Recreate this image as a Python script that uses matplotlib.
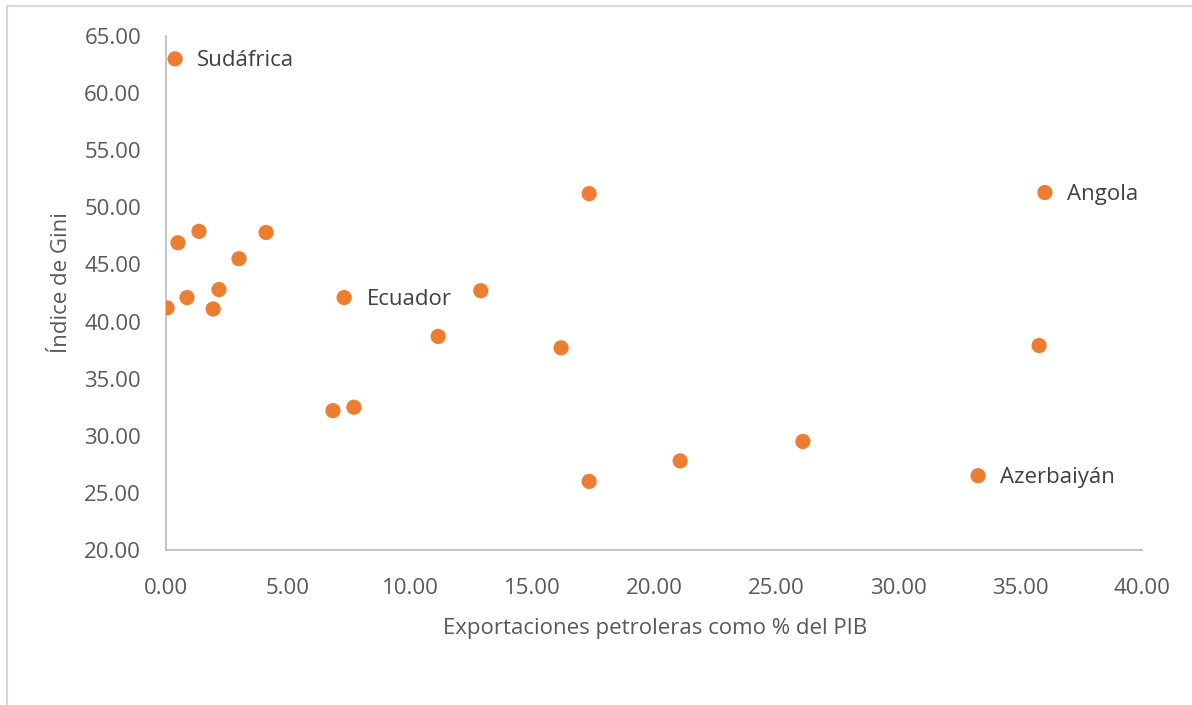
import matplotlib.pyplot as plt
from matplotlib.lines import Line2D

# exportaciones petroleras (% PIB) vs índice de Gini
export_pib = [0.37, 0.04, 0.49, 0.86, 1.35, 1.93, 2.17, 2.99, 4.10, 6.84, 7.30,
              7.70, 11.15, 12.90, 16.19, 17.34, 17.34, 21.07, 26.10, 33.28, 35.78, 36.02]
gini = [63.0, 41.2, 46.9, 42.1, 47.9, 41.1, 42.8, 45.5, 47.8, 32.2, 42.1,
        32.5, 38.7, 42.7, 37.7, 51.2, 26.0, 27.8, 29.5, 26.5, 37.9, 51.3]
paises = {0: 'Sudáfrica', 10: 'Ecuador', 19: 'Azerbaiyán', 21: 'Angola'}

xticks = [0, 5, 10, 15, 20, 25, 30, 35, 40]
yticks = [20, 25, 30, 35, 40, 45, 50, 55, 60, 65]

plt.rcParams['font.family'] = ['Open Sans', 'DejaVu Sans']
gris = '#595959'
eje = '#BFBFBF'

fig = plt.figure(figsize=(11.92, 7.05), dpi=100)
ax = fig.add_axes([0.1393, 0.2199, 0.8188, 0.729])

ax.scatter(export_pib, gini, s=120, color='#ED7D31', edgecolors='none', zorder=3)
for i, nombre in paises.items():
    ax.annotate(nombre, (export_pib[i], gini[i]), xytext=(16, -1.5), textcoords='offset points',
                va='center', ha='left', fontsize=16, color='#404040')

ax.set_xlim(0, 40)
ax.set_ylim(20, 65)
ax.set_xticks(xticks)
ax.set_yticks(yticks)
ax.set_xticklabels([f'{v:.2f}' for v in xticks])
ax.set_yticklabels([f'{v:.2f}' for v in yticks])
ax.tick_params(length=0, labelsize=16, labelcolor=gris)
ax.tick_params(axis='y', pad=18)
ax.tick_params(axis='x', pad=20)

for lado in ['top', 'right']:
    ax.spines[lado].set_visible(False)
for lado in ['left', 'bottom']:
    ax.spines[lado].set_color(eje)
    ax.spines[lado].set_linewidth(1.3)

ax.set_xlabel('Exportaciones petroleras como % del PIB', fontsize=16, color=gris)
ax.set_ylabel('Índice de Gini', fontsize=16, color=gris)
ax.xaxis.set_label_coords(0.501, -0.132)
ax.yaxis.set_label_coords(-0.096, 0.521)

# borde del área del gráfico
fig.add_artist(Line2D([7 / 1192, 1], [1 - 6 / 705, 1 - 6 / 705], color='#D9D9D9', lw=1.5))
fig.add_artist(Line2D([7 / 1192, 7 / 1192], [0, 1 - 6 / 705], color='#D9D9D9', lw=1.5))

fig.savefig('out.png', dpi=100)
